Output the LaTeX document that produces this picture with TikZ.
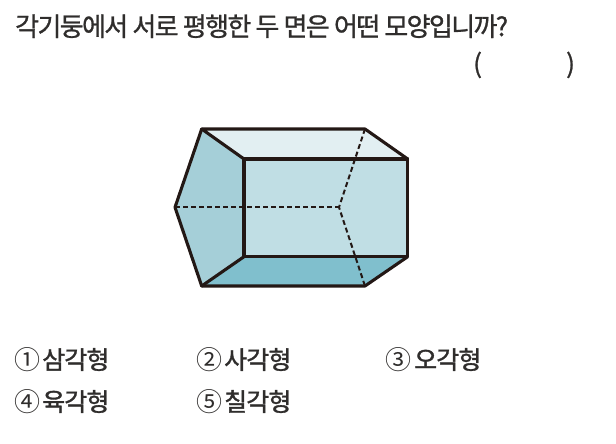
\documentclass[tikz,border=0pt]{standalone}
\usepackage{fontspec}
\setmainfont{Liberation Serif}
\newfontfamily\krfont[LetterSpace=-6.3,FakeBold=1]{Noto Sans CJK KR}
\newfontfamily\krchoice[LetterSpace=-3.5,FakeBold=1.4]{Noto Sans CJK KR}
\newfontfamily\circfont{Noto Sans CJK KR}
\definecolor{ink}{HTML}{231815}
\definecolor{txt}{HTML}{2F2D2C}
\definecolor{faceTop}{HTML}{E2EFF2}
\definecolor{faceFront}{HTML}{C0DEE4}
\definecolor{faceLeft}{HTML}{A5CFD8}
\definecolor{faceBottom}{HTML}{80BFCD}
\tikzset{
  edgeline/.style={draw=ink,line width=3.1pt,line join=round,line cap=round},
  hiddenline/.style={draw=ink,line width=2pt,dash pattern=on 5pt off 3pt},
  title/.style={anchor=base west,inner sep=0pt,text=txt,font=\fontsize{26}{26}\selectfont\krfont},
  choice/.style={anchor=base west,inner sep=0pt,text=txt,font=\fontsize{25}{25}\selectfont\krchoice},
  num/.style={anchor=base west,inner sep=0pt,text=txt,font=\fontsize{26}{26}\selectfont\circfont},
}
\begin{document}
\begin{tikzpicture}[x=1pt,y=-1pt]
\useasboundingbox (0,0) rectangle (616,444);
\coordinate (bl) at (201.7,129);
\coordinate (br) at (365,129);
\coordinate (fl) at (244,159);
\coordinate (fr) at (407.7,159);
\coordinate (gl) at (244,256.7);
\coordinate (gr) at (407.7,256.7);
\coordinate (hl) at (201.7,286);
\coordinate (hr) at (365,286);
\coordinate (al) at (175,207.3);
\coordinate (ar) at (339,207.3);
\fill[faceTop] (bl)--(br)--(fr)--(fl)--cycle;
\fill[faceFront] (fl)--(fr)--(gr)--(gl)--cycle;
\fill[faceLeft] (bl)--(fl)--(gl)--(hl)--(al)--cycle;
\fill[faceBottom] (gl)--(gr)--(hr)--(hl)--cycle;
\draw[hiddenline] (al)--(ar);
\draw[hiddenline] (br)--(ar)--(hr);
\draw[edgeline] (fl)--(fr)--(gr)--(gl)--cycle;
\draw[edgeline] (fl)--(bl)--(br)--(fr);
\draw[edgeline] (bl)--(al)--(hl)--(hr)--(gr);
\draw[edgeline] (hl)--(gl);
\node[title] (q) at (15,36) {각기둥에서 서로 평행한 두 면은 어떤 모양입니까?};
\node[title] (lp) at (473,73) {(};
\node[title] (rp) at (566,73) {)};
\node[num] (n1) at (14,369) {①};
\node[choice] (c1) at (42,369) {삼각형};
\node[num] (n2) at (196,369) {②};
\node[choice] (c2) at (224,369) {사각형};
\node[num] (n3) at (385,369) {③};
\node[choice] (c3) at (414,369) {오각형};
\node[num] (n4) at (14,411) {④};
\node[choice] (c4) at (42,411) {육각형};
\node[num] (n5) at (196,411) {⑤};
\node[choice] (c5) at (224,411) {칠각형};
\end{tikzpicture}
\end{document}
